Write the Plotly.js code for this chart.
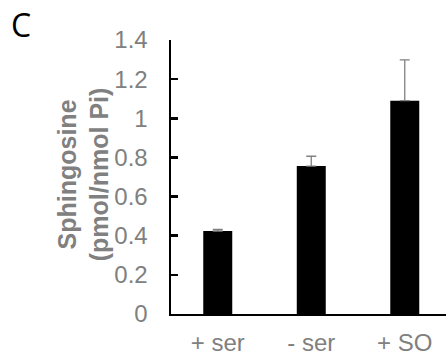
<!DOCTYPE html>
<html><head><meta charset="utf-8">
<script src="https://cdn.plot.ly/plotly-3.0.1.min.js"></script>
<style>html,body{margin:0;padding:0;background:#fff}</style>
</head><body>
<div id="chart" style="width:446px;height:360px"></div>
<script>
const categories = ["+ ser", "- ser", "+ SO"];
const values = [0.424, 0.756, 1.09];
const errorsUp = [0.008, 0.05, 0.208];
const yTicks = [0, 0.2, 0.4, 0.6, 0.8, 1, 1.2, 1.4];
const yTickLabels = ["0", "0.2", "0.4", "0.6", "0.8", "1", "1.2", "1.4"];

const gray = "#808080";
const trace = {
  type: "bar",
  x: categories,
  y: values,
  width: 0.31,
  marker: {color: "#000000", line: {width: 0}},
  error_y: {type: "data", array: errorsUp, symmetric: false, arrayminus: [0,0,0],
            color: gray, thickness: 1.3, width: 5}
};
const layout = {
  width: 446, height: 360,
  margin: {l: 171, r: 0, t: 40, b: 46},
  paper_bgcolor: "#fff", plot_bgcolor: "#fff",
  showlegend: false,
  font: {family: "Liberation Sans, Arial, sans-serif", color: gray, size: 24},
  xaxis: {
    type: "category", range: [-0.5, 2.441],
    showline: true, linecolor: "#000", linewidth: 2,
    ticks: "", showgrid: false, zeroline: false,
    tickfont: {size: 24, color: gray}, ticklabelstandoff: 6
  },
  yaxis: {
    range: [0, 1.4], tickvals: yTicks, ticktext: yTickLabels,
    showline: true, linecolor: "#000", linewidth: 2.5,
    ticks: "inside", ticklen: 7, tickwidth: 2.5, tickcolor: "#000",
    showgrid: false, zeroline: false,
    tickfont: {size: 24, color: gray}, ticklabelstandoff: 16
  },
  annotations: [
    {text: "<b>Sphingosine</b><br><b>(pmol/nmol Pi)</b>", textangle: -90,
     xref: "paper", yref: "paper", x: -0.32, y: 0.51, xanchor: "center", yanchor: "middle",
     showarrow: false, font: {size: 25, color: gray}},
    {text: "C", xref: "paper", yref: "paper", x: (9-171)/275, y: (314-24)/274,
     xanchor: "left", yanchor: "middle", showarrow: false,
     font: {size: 32, color: "#000", family: "Open Sans, sans-serif"}}
  ]
};
Plotly.newPlot("chart", [trace], layout, {displayModeBar: false, staticPlot: true});
</script>
</body></html>
